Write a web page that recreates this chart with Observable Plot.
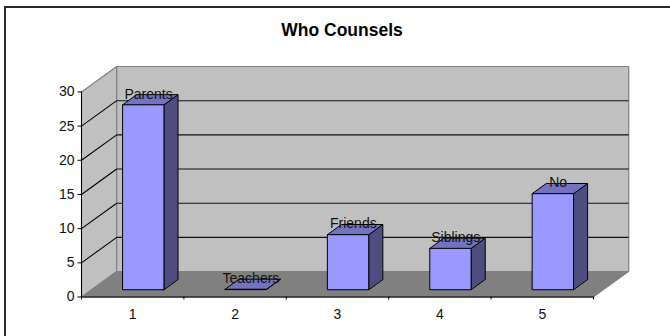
<!DOCTYPE html>
<html>
<head>
<meta charset="utf-8">
<script src="https://cdn.jsdelivr.net/npm/d3@7"></script>
<script src="https://cdn.jsdelivr.net/npm/@observablehq/plot@0.6"></script>
<style>
  html, body { margin: 0; padding: 0; background: #fff; overflow: hidden; }
  #chart { position: relative; width: 670px; height: 336px; font-family: "Liberation Sans", Arial, sans-serif; }
  #edge { position: absolute; left: 4px; top: 6px; right: 0; bottom: 0; border-left: 2px solid #2a2a2a; border-top: 2px solid #2a2a2a; }
  #title { position: absolute; left: 0; top: 20px; width: 684px; text-align: center; font-weight: bold; font-size: 17.5px; line-height: 20px; color: #000; }
  svg { position: absolute; left: 0; top: 0; background: transparent !important; }
</style>
</head>
<body>
<div id="chart"><div id="edge"></div><div id="title">Who Counsels</div></div>
<script>
// Survey answers
const categories = [1, 2, 3, 4, 5];
const counts = [27, 0, 8, 6, 14];
const answers = ["Parents", "Teachers", "Friends", "Siblings", "No"];
const valueTicks = [0, 5, 10, 15, 20, 25, 30];
const gridValues = [5, 10, 15, 20, 25];
const bandEdges = [0.5, 1.5, 2.5, 3.5, 4.5, 5.5];

// Oblique projection: depth 0 is the front plane, depth 1 the back wall,
// and each unit of depth shifts a point along both data axes.
const skewX = 0.344;
const skewY = 3.72;
const px = (x, depth) => x + depth * skewX;
const py = (v, depth) => v + depth * skewY;
const pt = (id, x, v, depth) => ({id, x: px(x, depth), y: py(v, depth)});

const xMin = 0.5, xMax = 5.5, vMax = 30;

const sideWall = [pt("s", xMin, 0, 0), pt("s", xMin, vMax, 0), pt("s", xMin, vMax, 1), pt("s", xMin, 0, 1)];
const backWall = [pt("b", xMin, 0, 1), pt("b", xMin, vMax, 1), pt("b", xMax, vMax, 1), pt("b", xMax, 0, 1)];
const floor = [pt("f", xMin, 0, 0), pt("f", xMin, 0, 1), pt("f", xMax, 0, 1), pt("f", xMax, 0, 0)];

// Bars sit between depths 0.3 and 0.7 of the floor and fill 0.404 of a band.
const d0 = 0.3, d1 = 0.7, half = 0.202;
const frontFaces = [], sideFaces = [], topFaces = [];
categories.forEach((c, i) => {
  const v = counts[i], l = c - half, r = c + half;
  frontFaces.push(pt(i, l, 0, d0), pt(i, l, v, d0), pt(i, r, v, d0), pt(i, r, 0, d0));
  sideFaces.push(pt(i, r, 0, d0), pt(i, r, v, d0), pt(i, r, v, d1), pt(i, r, 0, d1));
  topFaces.push(pt(i, l, v, d0), pt(i, l, v, d1), pt(i, r, v, d1), pt(i, r, v, d0));
});

const labelRows = categories.map((c, i) => ({x: px(c, 0.45), y: py(counts[i], 0.7), text: answers[i]}));

const face = (rows, fill, stroke, strokeWidth = 1) => Plot.line(rows, {
  x: "x", y: "y", z: "id", curve: "linear-closed", fill, stroke, strokeWidth, strokeLinejoin: "miter"
});

const plot = Plot.plot({
  width: 670,
  height: 336,
  marginLeft: 81,
  marginRight: 41.8,
  marginTop: 66,
  marginBottom: 39.5,
  x: {type: "linear", domain: [xMin, px(xMax, 1)], label: null},
  y: {type: "linear", domain: [0, py(vMax, 1)], label: null},
  style: {fontFamily: "'Liberation Sans', Arial, sans-serif", fontSize: "14px", color: "#111", background: "transparent"},
  marks: [
    face(sideWall, "#c0c0c0", "#808080", 1.2),
    face(backWall, "#c0c0c0", "#808080", 1.2),
    face(floor, "#808080", "#808080"),
    // gridlines across the back wall and down the side wall
    Plot.link(gridValues, {x1: xMin + skewX, x2: xMax + skewX, y1: d => py(d, 1), y2: d => py(d, 1), stroke: "#111", strokeWidth: 1.1}),
    Plot.link(gridValues, {x1: xMin, x2: xMin + skewX, y1: d => d, y2: d => py(d, 1), stroke: "#000", strokeWidth: 1.1}),
    // axis lines on the front plane
    Plot.ruleX([xMin], {y1: 0, y2: vMax, stroke: "#000", strokeWidth: 1}),
    Plot.ruleY([0], {x1: xMin, x2: xMax, stroke: "#000", strokeWidth: 1.2}),
    Plot.axisY({ticks: valueTicks, tickSize: 3.5, tickPadding: 3.5, label: null, stroke: "#000"}),
    Plot.axisX({ticks: bandEdges, tickSize: 3, tickFormat: () => "", label: null, stroke: "#000"}),
    Plot.axisX({ticks: categories, tickSize: 0, tickPadding: 12, tickFormat: d => String(d), label: null}),
    // bars
    face(sideFaces, "#4d4d80", "#000"),
    face(topFaces, "#7373bf", "#000"),
    face(frontFaces, "#9999ff", "#000"),
    // answer labels over each bar
    Plot.text(labelRows, {x: "x", y: "y", dy: -0.5, text: "text", fill: "#111", textAnchor: "middle", lineAnchor: "middle"})
  ]
});
document.getElementById("chart").appendChild(plot);
</script>
</body>
</html>
